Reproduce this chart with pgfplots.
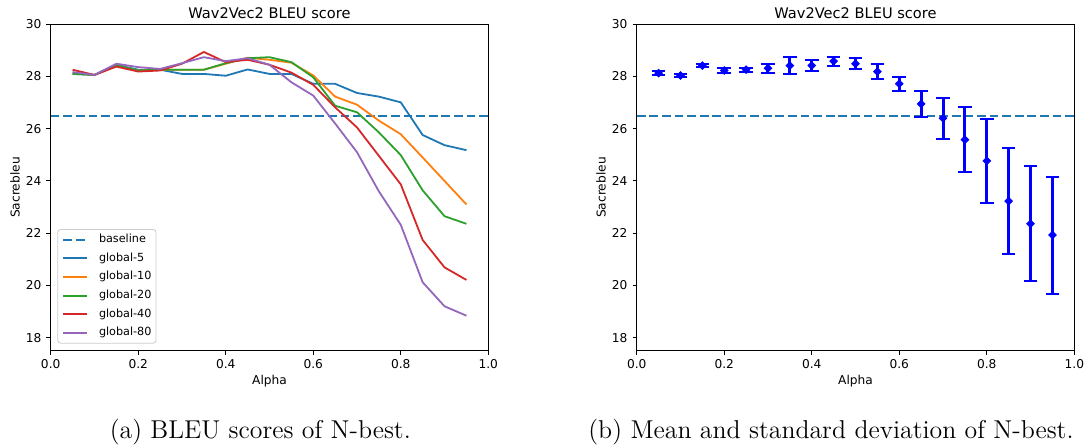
\documentclass[border=0pt]{standalone}
\usepackage{fontspec}
\newfontfamily\dejavu{DejaVu Sans}
\usepackage{pgfplots}
\usepackage{pgfplotstable}
\pgfplotsset{compat=1.18}

\definecolor{c0}{HTML}{1F77B4}
\definecolor{c1}{HTML}{FF7F0E}
\definecolor{c2}{HTML}{2CA02C}
\definecolor{c3}{HTML}{D62728}
\definecolor{c4}{HTML}{9467BD}

% BLEU per alpha, one column per N-best size
\pgfplotstableread{
a    g5    g10   g20   g40   g80
0.05 28.10 28.13 28.10 28.26 28.17
0.10 28.06 28.06 28.06 28.06 28.06
0.15 28.45 28.42 28.42 28.38 28.49
0.20 28.26 28.23 28.23 28.19 28.36
0.25 28.26 28.26 28.26 28.23 28.29
0.30 28.10 28.26 28.26 28.49 28.51
0.35 28.10 28.26 28.26 28.94 28.74
0.40 28.03 28.49 28.51 28.55 28.59
0.45 28.27 28.72 28.70 28.64 28.70
0.50 28.10 28.64 28.74 28.45 28.45
0.55 28.10 28.53 28.55 28.15 27.78
0.60 27.72 28.04 27.97 27.68 27.27
0.65 27.72 27.23 26.88 26.82 26.20
0.70 27.37 26.92 26.63 26.05 25.10
0.75 27.23 26.31 25.86 24.96 23.60
0.80 27.01 25.79 24.99 23.87 22.32
0.85 25.76 24.90 23.64 21.74 20.12
0.90 25.37 24.00 22.65 20.69 19.20
0.95 25.18 23.10 22.36 20.21 18.84
}\bleu

% mean and std over the five runs
\pgfplotstableread{
a    m     s
0.05 28.13 0.09
0.10 28.04 0.05
0.15 28.42 0.07
0.20 28.23 0.08
0.25 28.26 0.07
0.30 28.32 0.17
0.35 28.42 0.33
0.40 28.42 0.20
0.45 28.59 0.17
0.50 28.49 0.22
0.55 28.19 0.30
0.60 27.72 0.27
0.65 26.95 0.49
0.70 26.40 0.78
0.75 25.58 1.24
0.80 24.77 1.61
0.85 23.23 2.04
0.90 22.36 2.20
0.95 21.93 2.24
}\stats

\pgfplotsset{
  mpl/.style={
    scale only axis, width=218.8pt, height=163.2pt,
    xmin=0, xmax=1, ymin=17.5, ymax=30,
    xtick={0,0.2,0.4,0.6,0.8,1.0},
    ytick={18,20,22,24,26,28,30},
    /pgf/number format/assume math mode=true,
    tick align=outside, tick pos=left, major tick length=2.1pt,
    tick style={black, line width=0.5pt},
    axis line style={line width=0.5pt},
    tick label style={font=\dejavu\fontsize{6.1}{7.3}\selectfont},
    xticklabel style={anchor=base, inner sep=0pt, yshift=-6.7pt,
      /pgf/number format/fixed, /pgf/number format/fixed zerofill,
      /pgf/number format/precision=1},
    yticklabel style={anchor=east, inner sep=0pt, xshift=-2.4pt},
    label style={font=\dejavu\fontsize{6.1}{7.3}\selectfont},
    xlabel style={at={(axis description cs:0.5,0)}, anchor=base, yshift=-17.15pt},
    ylabel style={at={(axis description cs:0,0.5)}, anchor=center, yshift=17.85pt},
    title style={font=\dejavu\fontsize{7.3}{8.8}\selectfont, at={(0.5,1)}, anchor=base, yshift=-3pt},
    title={Wav2Vec2 BLEU score}, xlabel={Alpha}, ylabel={Sacrebleu},
  },
  base/.style={c0, line width=0.9pt, dash pattern=on 4.4pt off 1.9pt},
  run/.style={#1, line width=0.9pt},
}

\begin{document}
\begin{tikzpicture}
\begin{axis}[mpl, at={(25.35pt,48.65pt)}, anchor=south west,
  legend cell align=left,
  legend image code/.code={\draw[#1, line width=1pt] (0pt,0pt) -- (12pt,0pt);},
  legend style={at={(0,0)}, anchor=south west, xshift=3.3pt, yshift=3.55pt,
    draw=black!20, fill=white, rounded corners=1.5pt, inner sep=2.3pt,
    font=\dejavu\fontsize{5.6}{6.7}\selectfont, row sep=3.85pt, column sep=5.35pt,
    nodes={inner sep=0pt, text height=4.2pt, text depth=1.3pt}},
]
\addplot[base] coordinates {(0,26.5) (1,26.5)};
\addplot[run=c0] table[x=a, y=g5] {\bleu};
\addplot[run=c1] table[x=a, y=g10] {\bleu};
\addplot[run=c2] table[x=a, y=g20] {\bleu};
\addplot[run=c3] table[x=a, y=g40] {\bleu};
\addplot[run=c4] table[x=a, y=g80] {\bleu};
\legend{baseline, global-5, global-10, global-20, global-40, global-80}
\end{axis}

\begin{axis}[mpl, at={(318.35pt,48.65pt)}, anchor=south west]
\addplot[base] coordinates {(0,26.5) (1,26.5)};
\addplot[blue, only marks, mark=square*, mark size=1.35pt, mark options={rotate=45},
  error bars/.cd, y dir=both, y explicit,
  error bar style={line width=1.5pt},
  error mark options={blue, rotate=90, mark size=3.4pt, line width=1pt}]
  table[x=a, y=m, y error=s] {\stats};
\end{axis}

\node[anchor=base, inner sep=0pt, font=\fontsize{12.9}{15}\selectfont] at (130.15pt,4.5pt) {(a) BLEU scores of N-best.};
\node[anchor=base west, inner sep=0pt, font=\fontsize{12.9}{15}\selectfont] at (294pt,4.5pt) {(b) Mean and standard deviation of N-best.};
\pgfresetboundingbox
\path (0,0) rectangle (542.5pt,224pt);
\end{tikzpicture}
\end{document}
